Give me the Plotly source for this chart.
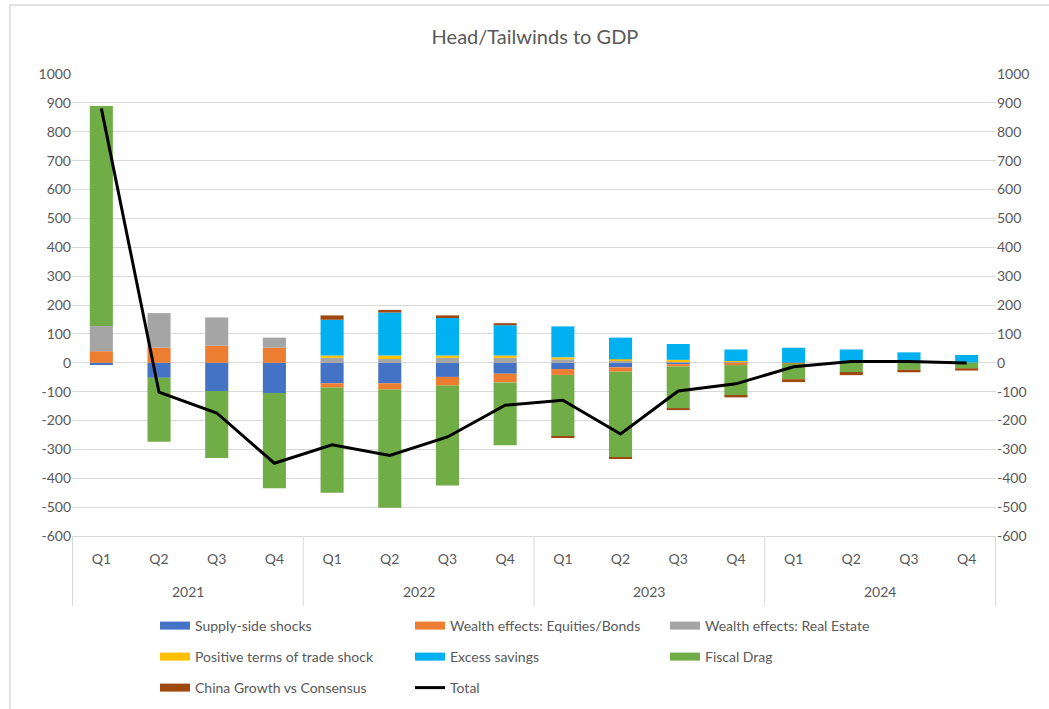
import plotly.graph_objects as go

# Quarterly categories (year / quarter)
years = ["2021", "2022", "2023", "2024"]
quarters = ["Q1", "Q2", "Q3", "Q4"]
periods = [f"{y} {q}" for y in years for q in quarters]
quarter_labels = [q for _ in years for q in quarters]

# Contributions by driver
supply_side = [-8, -52, -98, -105, -71, -71, -49, -38, -22, -16, -5, -3, 0, 0, 0, 0]
equities_bonds = [40, 52, 59, 52, -15, -22, -30, -30, -20, -15, -8, -5, -3, 0, 0, 0]
real_estate = [87, 120, 98, 35, 17, 13, 17, 17, 12, 8, 6, 3, 0, 0, 0, 0]
terms_of_trade = [0, 0, 0, 0, 8, 12, 8, 8, 7, 4, 4, 3, 0, 0, 0, 0]
excess_savings = [0, 0, 0, 0, 124, 149, 130, 105, 107, 75, 55, 40, 52, 46, 36, 27]
fiscal_drag = [762, -222, -232, -330, -364, -409, -346, -218, -213, -297, -144, -106, -54, -32, -24, -19]
china_growth = [0, 0, 0, 0, 15, 9, 9, 7, -3, -5, -7, -6, -10, -11, -9, -8]
total = [881, -102, -174, -348, -284, -321, -257, -147, -130, -247, -98, -73, -14, 4, 4, -1]

y_ticks = list(range(-600, 1001, 100))
y_ticktext = [str(v) for v in y_ticks]

series = [
    ("Supply-side shocks", supply_side, "#4472C4", "legend"),
    ("Wealth effects: Equities/Bonds", equities_bonds, "#ED7D31", "legend"),
    ("Wealth effects: Real Estate", real_estate, "#A5A5A5", "legend"),
    ("Positive terms of trade shock", terms_of_trade, "#FFC000", "legend2"),
    ("Excess savings", excess_savings, "#00B0F0", "legend2"),
    ("Fiscal Drag", fiscal_drag, "#70AD47", "legend2"),
    ("China Growth vs Consensus", china_growth, "#9E480E", "legend3"),
]

FONT = "Lato, 'Open Sans', sans-serif"
GREY_TXT = "#595959"
GRID = "#D9D9D9"

fig = go.Figure()
for name, vals, color, lg in series:
    fig.add_trace(go.Bar(
        x=periods, y=vals, name=name, marker=dict(color=color, line=dict(width=0)),
        showlegend=False, legendgroup=name,
    ))
    # wide flat swatch for the legend entry
    fig.add_trace(go.Scatter(
        x=[None], y=[None], name=name, mode="lines", legendgroup=name,
        line=dict(color=color, width=8), legend=lg, hoverinfo="skip",
    ))

fig.add_trace(go.Scatter(
    x=periods, y=total, name="Total", mode="lines",
    line=dict(color="black", width=3), yaxis="y2", legend="legend3",
))

# plot area in pixels
L, R, T, B = 72, 996, 74, 536
W, H = 1049, 709
pw, ph = R - L, B - T


def py_paper(py):
    return (B - py) / ph


def container_x(px):
    return px / W


def container_y(py):
    return 1 - py / H


legend_common = dict(
    orientation="h", font=dict(family=FONT, size=14, color=GREY_TXT),
    entrywidth=210, entrywidthmode="pixels", xanchor="left", yanchor="middle",
    xref="container", yref="container",
    bgcolor="rgba(0,0,0,0)", traceorder="normal",
)

# year labels under each group of four quarters, and group dividers
annotations = []
for i, yr in enumerate(years):
    annotations.append(dict(
        x=i * 4 + 1.5, xref="x", y=py_paper(591), yref="paper",
        text=yr, showarrow=False, yanchor="middle",
        font=dict(family=FONT, size=14, color=GREY_TXT),
    ))

shapes = []
for i in range(len(years) + 1):
    shapes.append(dict(
        type="line", xref="x", yref="paper", x0=i * 4 - 0.5, x1=i * 4 - 0.5,
        y0=0, y1=py_paper(606), line=dict(color=GRID, width=1),
    ))
# chart-area frame
shapes.append(dict(
    type="rect", xref="paper", yref="paper",
    x0=(10 - L) / pw, x1=(1100 - L) / pw, y0=py_paper(760), y1=py_paper(5),
    line=dict(color=GRID, width=1.5), layer="below",
))

fig.update_layout(
    width=W, height=H,
    margin=dict(l=L, r=W - R, t=T, b=H - B, autoexpand=False),
    paper_bgcolor="white", plot_bgcolor="white",
    barmode="relative", bargap=0.6,
    showlegend=True,
    title=dict(text="Head/Tailwinds to GDP", x=0.51, xanchor="center", y=1 - 37 / H,
               yanchor="middle", font=dict(family=FONT, size=20, color=GREY_TXT)),
    font=dict(family=FONT, size=14, color=GREY_TXT),
    xaxis=dict(
        type="category", showgrid=False, showline=True, linecolor=GRID,
        ticks="", tickvals=periods, ticktext=quarter_labels, ticklabelstandoff=10,
        tickfont=dict(family=FONT, size=14, color=GREY_TXT), automargin=False,
    ),
    yaxis=dict(
        range=[-600, 1000], tickvals=y_ticks, ticktext=y_ticktext, showgrid=True,
        gridcolor=GRID, gridwidth=1, zeroline=False, showline=False, ticks="",
        automargin=False, tickfont=dict(family=FONT, size=14, color=GREY_TXT),
    ),
    yaxis2=dict(
        range=[-600, 1000], tickvals=y_ticks, ticktext=y_ticktext, overlaying="y",
        side="right", showgrid=False, zeroline=False, showline=False, ticks="",
        automargin=False, tickfont=dict(family=FONT, size=14, color=GREY_TXT),
    ),
    legend=dict(legend_common, x=container_x(155), y=container_y(626)),
    legend2=dict(legend_common, x=container_x(155), y=container_y(657)),
    legend3=dict(legend_common, x=container_x(155), y=container_y(688)),
    annotations=annotations,
    shapes=shapes,
)

fig.write_html("out.html")
